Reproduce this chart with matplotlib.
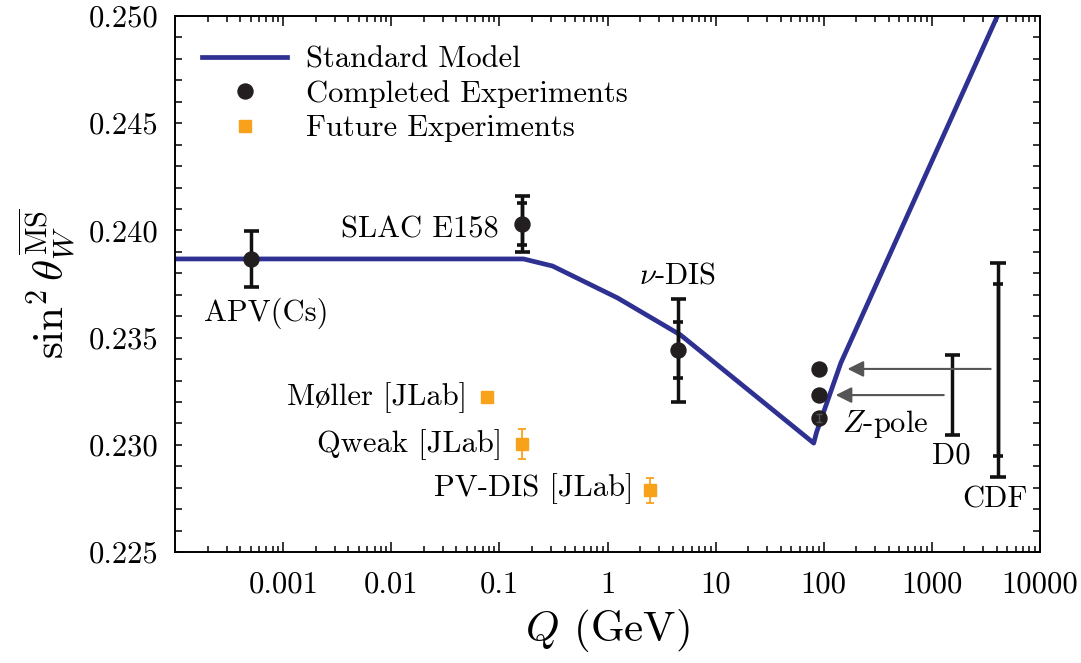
import numpy as np
import matplotlib
matplotlib.use("Agg")
import matplotlib.pyplot as plt
from matplotlib.ticker import FixedLocator, FixedFormatter, MultipleLocator, LogLocator, NullFormatter
from matplotlib.lines import Line2D

plt.rcParams['font.family'] = ['cmr10', 'STIXGeneral', 'DejaVu Serif']
plt.rcParams['mathtext.fontset'] = 'cm'
plt.rcParams['axes.formatter.use_mathtext'] = True

# standard model running of sin^2 theta_W
q_sm = [1e-4, 0.167, 0.31, 1.24, 4.75, 80.8, 86.0, 144.0, 1e4]
s2w_sm = [0.23867, 0.23867, 0.23834, 0.23685, 0.23512, 0.23008, 0.23060, 0.23382, 0.2544]

# completed experiments
apv_q, apv_y, apv_err = 5.0e-4, 0.23866, 0.00130
e158_q, e158_y, e158_err, e158_stat = 0.163, 0.24030, 0.00130, 0.00100
nudis_q, nudis_y, nudis_err, nudis_stat = 4.5, 0.23442, 0.00240, 0.00130
z_q = 91.19
z_y = [0.23354, 0.23232, 0.23125]
z_err = 0.00018
d0_q, d0_y, d0_err = 1530.0, 0.23232, 0.00186
cdf_q, cdf_y, cdf_err, cdf_stat = 4080.0, 0.23349, 0.00500, 0.00403

# future experiments
fut_names = ["Møller [JLab]", "Qweak [JLab]", "PV-DIS [JLab]"]
fut_q = [0.076, 0.163, 2.45]
fut_y = [0.23223, 0.23004, 0.22787]
fut_err = [0.0, 0.00068, 0.00058]

# arrows from Tevatron to Z pole
arr_start_q = [3500.0, 1290.0]
arr_end_q = [166.0, 129.0]
arr_y = [z_y[0], z_y[1]]

navy = '#2E3192'
dark = '#231F20'
orange = '#F8A21C'
fs = 22

fig = plt.figure(figsize=(10.81, 6.63), dpi=100)
ax = fig.add_axes([0.162, 0.1674, 0.8, 0.8084])

ax.plot(q_sm, s2w_sm, color=navy, lw=3.4, zorder=2)

ebkw = dict(fmt='none', ecolor='#111111', elinewidth=2.5, capthick=2.6, zorder=3)
ax.errorbar(apv_q, apv_y, yerr=apv_err, capsize=5.4, **ebkw)
ax.errorbar(e158_q, e158_y, yerr=e158_err, capsize=5.4, **ebkw)
ax.errorbar(e158_q, e158_y, yerr=e158_stat, capsize=3.8, **ebkw)
ax.errorbar(nudis_q, nudis_y, yerr=nudis_err, capsize=5.4, **ebkw)
ax.errorbar(nudis_q, nudis_y, yerr=nudis_stat, capsize=3.6, **ebkw)
ax.errorbar(d0_q, d0_y, yerr=d0_err, capsize=5.4, **ebkw)
ax.errorbar(cdf_q, cdf_y, yerr=cdf_err, capsize=5.6, **ebkw)
ax.errorbar(cdf_q, cdf_y, yerr=cdf_stat, capsize=3.8, **ebkw)

ax.plot([apv_q, e158_q, nudis_q], [apv_y, e158_y, nudis_y], 'o', color=dark, ms=10.8, zorder=4)
ax.plot([z_q] * 3, z_y, 'o', color=dark, ms=10.8, zorder=4)
ax.errorbar(z_q, z_y[2], yerr=z_err, fmt='none', ecolor='#555555', elinewidth=1.0, capsize=2.5, zorder=5)

for q, y, e in zip(fut_q, fut_y, fut_err):
    if e > 0:
        ax.errorbar(q, y, yerr=e, fmt='none', ecolor=orange, elinewidth=1.3, capthick=1.3, capsize=3.0, zorder=3)
ax.plot(fut_q, fut_y, 's', color=orange, ms=9, zorder=4)

for qs, qe, y in zip(arr_start_q, arr_end_q, arr_y):
    ax.annotate('', xy=(qe, y), xytext=(qs, y),
                arrowprops=dict(arrowstyle='-|>', color='#555555', lw=1.5, mutation_scale=24,
                                shrinkA=0, shrinkB=0))

def lab(text, xy, dx, dy, ha):
    ax.annotate(text, xy=xy, xytext=(dx, dy), textcoords='offset pixels',
                ha=ha, va='baseline', fontsize=fs)

lab("APV(Cs)", (apv_q, apv_y), 16, -62, 'center')
lab("SLAC E158", (e158_q, e158_y), -24, -13, 'right')
lab(r"$\nu$-DIS", (nudis_q, nudis_y), -1, 67, 'center')
lab(r"$Z$-pole", (z_q, z_y[2]), 23, -14, 'left')
lab("D0", (d0_q, d0_y - d0_err), 0, -29, 'center')
lab("CDF", (cdf_q, cdf_y - cdf_err), -3, -30, 'center')
lab(fut_names[0], (fut_q[0], fut_y[0]), -19, -8, 'right')
lab(fut_names[1], (fut_q[1], fut_y[1]), -20, -8, 'right')
lab(fut_names[2], (fut_q[2], fut_y[2]), -16, -6, 'right')

ax.set_xscale('log')
ax.set_xlim(1e-4, 1e4)
ax.set_ylim(0.225, 0.250)
xt = [1e-3, 1e-2, 1e-1, 1, 10, 100, 1000, 10000]
xtl = ['0.001', '0.01', '0.1', '1', '10', '100', '1000', '10000']
ax.xaxis.set_major_locator(FixedLocator(xt))
ax.xaxis.set_major_formatter(FixedFormatter(xtl))
ax.xaxis.set_minor_locator(LogLocator(base=10, subs=np.arange(2, 10), numticks=20))
ax.xaxis.set_minor_formatter(NullFormatter())
ax.yaxis.set_major_locator(MultipleLocator(0.005))
ax.yaxis.set_minor_locator(MultipleLocator(0.001))
ax.yaxis.set_major_formatter(plt.FuncFormatter(lambda v, p: '%.3f' % v))

ax.tick_params(which='both', direction='in', top=True, right=True, labelsize=fs, width=1.1)
ax.tick_params(axis='x', which='major', length=7.5, pad=14)
ax.tick_params(axis='x', which='minor', length=4.5)
ax.tick_params(axis='y', which='major', length=5, pad=12)
ax.tick_params(axis='y', which='minor', length=5)
for s in ax.spines.values():
    s.set_linewidth(1.4)

ax.set_xlabel(r"$Q$ (GeV)", fontsize=31, labelpad=6)
ax.set_ylabel(r"$\sin^2\theta_W^{\overline{\rm MS}}$", fontsize=31, labelpad=8)

handles = [Line2D([], [], color=navy, lw=3.4),
           Line2D([], [], ls='none', marker='o', color=dark, ms=10.8),
           Line2D([], [], ls='none', marker='s', color=orange, ms=9)]
ax.legend(handles, ["Standard Model", "Completed Experiments", "Future Experiments"],
          loc='upper left', bbox_to_anchor=(0.031, 0.944), frameon=False, fontsize=fs,
          borderpad=0, borderaxespad=0, handlelength=2.8, handletextpad=0.6, labelspacing=0.22)

fig.savefig("out.png", dpi=100)
